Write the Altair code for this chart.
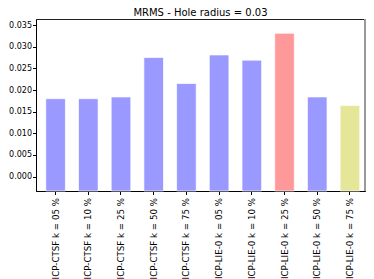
import altair as alt
import pandas as pd

categories = [
    "ICP-CTSF k = 05 %", "ICP-CTSF k = 10 %", "ICP-CTSF k = 25 %",
    "ICP-CTSF k = 50 %", "ICP-CTSF k = 75 %", "ICP-LIE-0 k = 05 %",
    "ICP-LIE-0 k = 10 %", "ICP-LIE-0 k = 25 %", "ICP-LIE-0 k = 50 %",
    "ICP-LIE-0 k = 75 %",
]
values = [0.0180, 0.0180, 0.0184, 0.0275, 0.0215, 0.0281, 0.0269, 0.0331, 0.0184, 0.0164]
colors = ["#9999ff"] * 7 + ["#ff9999", "#9999ff", "#e6e699"]
y_ticks = [0.000, 0.005, 0.010, 0.015, 0.020, 0.025, 0.030, 0.035]
y_min, y_max = -0.00332, 0.0364

df = pd.DataFrame({"cat": categories, "val": values, "base": [y_min] * len(values)})

bars = alt.Chart(df).mark_bar(stroke="#ffffff", strokeOpacity=0.7, strokeWidth=1).encode(
    x=alt.X("cat:N", sort=categories, title=None,
            scale=alt.Scale(paddingInner=0.4, paddingOuter=0.23, align=0.65),
            axis=alt.Axis(labelAngle=-90, labelAlign="right", labelBaseline="middle",
                          ticks=True, tickSize=3.5, labelPadding=3, labelFontSize=8.7)),
    y=alt.Y("val:Q", title=None,
            scale=alt.Scale(domain=[y_min, y_max], nice=False, zero=False),
            axis=alt.Axis(values=y_ticks, format=".3f", tickSize=3.5, labelPadding=1,
                          labelFontSize=8)),
    y2="base:Q",
    color=alt.Color("cat:N", scale=alt.Scale(domain=categories, range=colors), legend=None),
)

right = alt.Chart(df).mark_rule(color="#999999", strokeWidth=2).encode(
    x=alt.value(329), y=alt.value(0), y2=alt.value(172)
)

chart = (bars + right).properties(
    width=329, height=172,
    title=alt.TitleParams("MRMS - Hole radius = 0.03", fontSize=10, font="DejaVu Sans",
                          fontWeight="normal", color="black", offset=0),
    padding={"left": 0, "top": 0, "right": 0, "bottom": 0},
).configure_view(stroke="#222222", strokeWidth=1).configure_axis(
    grid=False, domainColor="black", tickColor="black", labelColor="black",
    labelFont="DejaVu Sans",
)

chart.save("out.html", embed_options={"renderer": "svg", "actions": False})
